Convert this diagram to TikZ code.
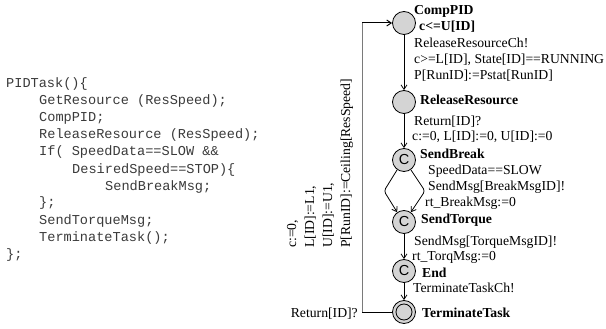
\documentclass[tikz,border=0pt]{standalone}
\usepackage{fontspec}
\setmainfont{Liberation Serif}
\setmonofont{Liberation Mono}
\setsansfont{Liberation Sans}
\usetikzlibrary{arrows.meta}
\definecolor{locgray}{HTML}{D4D4D4}
\definecolor{codegray}{HTML}{3A3A3A}
\definecolor{loopgray}{HTML}{7A7A7A}

\begin{document}
\begin{tikzpicture}[x=1pt,y=-1pt,
  loc/.style={circle,draw,line width=0.8pt,fill=locgray,minimum size=23pt,inner sep=0pt},
  committed/.style={loc,font=\sffamily\fontsize{14.5}{14.5}\selectfont},
  inner ring/.style={circle,draw,line width=0.8pt,minimum size=16pt,inner sep=0pt},
  lbl/.style={anchor=base west,inner sep=0pt,font=\fontsize{13.7}{16}\selectfont},
  locname/.style={lbl,font=\bfseries\fontsize{13.7}{16}\selectfont},
  codeline/.style={anchor=base west,inner sep=0pt,text=codegray,font=\ttfamily\fontsize{13.6}{16}\selectfont},
  rotlbl/.style={lbl,rotate=90},
  trans/.style={line width=0.8pt,-{Straight Barb[length=4.5pt,width=6pt]}},
]
\useasboundingbox (0,0) rectangle (606,329);

% ---- source code ----
\node[codeline] (c1)  at (6,88)    {PIDTask()\{};
\node[codeline] (c2)  at (39,105)  {GetResource (ResSpeed);};
\node[codeline] (c3)  at (39,122)  {CompPID;};
\node[codeline] (c4)  at (39,139)  {ReleaseResource (ResSpeed);};
\node[codeline] (c5)  at (39,156)  {If( SpeedData==SLOW \&\&};
\node[codeline] (c6)  at (72,173)  {DesiredSpeed==STOP)\{};
\node[codeline] (c7)  at (105,190) {SendBreakMsg;};
\node[codeline] (c8)  at (39,207)  {\};};
\node[codeline] (c9)  at (39,224)  {SendTorqueMsg;};
\node[codeline] (c10) at (39,241)  {TerminateTask();};
\node[codeline] (c11) at (6,258)   {\};};

% ---- locations ----
\node[loc] (comp) at (404,23) {};
\node[loc] (rel)  at (404,102) {};
\node[committed] (brk) at (404,160) {C};
\node[committed] (trq) at (404,222) {C};
\node[committed] (end) at (404,271) {C};
\node[loc] (term) at (404,312) {};
\node[inner ring] (termin) at (term.center) {};

% ---- location names and invariants ----
\node[locname] (ncomp) at (414,15)  {CompPID};
\node[locname] (icomp) at (419,31)  {c<=U[ID]};
\node[locname] (nrel)  at (420,105) {ReleaseResource};
\node[locname] (nbrk)  at (420,158) {SendBreak};
\node[locname] (ntrq)  at (421,223) {SendTorque};
\node[locname] (nend)  at (422,277) {End};
\node[locname] (nterm) at (422,317) {TerminateTask};

% ---- transition labels ----
\node[lbl] (e1a) at (414,48)  {ReleaseResourceCh!};
\node[lbl] (e1b) at (414,64)  {c>=L[ID], State[ID]==RUNNING};
\node[lbl] (e1c) at (414,80)  {P[RunID]:=Pstat[RunID]};
\node[lbl] (e2a) at (414,125) {Return[ID]?};
\node[lbl] (e2b) at (412,141) {c:=0, L[ID]:=0, U[ID]:=0};
\node[lbl] (e3a) at (428,175) {SpeedData==SLOW};
\node[lbl] (e3b) at (428,190) {SendMsg[BreakMsgID]!};
\node[lbl] (e3c) at (425,206) {rt\_BreakMsg:=0};
\node[lbl] (e4a) at (414,245) {SendMsg[TorqueMsgID]!};
\node[lbl] (e4b) at (412,260) {rt\_TorqMsg:=0};
\node[lbl] (e5a) at (413,292) {TerminateTaskCh!};

% ---- transitions ----
\draw[trans] (comp) -- (rel);
\draw[trans] (rel) -- (brk);
\draw[trans,rounded corners=3pt] (brk.235) -- (384,191) -- (trq.125);
\draw[trans,rounded corners=3pt] (brk.305) -- (425,191) -- (trq.55);
\draw[trans] (trq) -- (end);
\draw[trans] (end) -- (term);

% ---- return loop ----
\coordinate (lb) at (362,312);
\coordinate (lt) at (362,23);
\draw[line width=0.5pt,loopgray] (lb) -- (lt);
\draw[line width=1pt] (term.west) -- (lb);
\draw[line width=1pt,-{Straight Barb[length=4.5pt,width=6pt]}] (lt) -- (comp.west);
\node[lbl,anchor=base east] (rret) at (358,317) {Return[ID]?};
\node[rotlbl] (r1) at (296,248) {c:=0,};
\node[rotlbl] (r2) at (314,248) {L[ID]:=L1,};
\node[rotlbl] (r3) at (332,248) {U[ID]:=U1,};
\node[rotlbl] (r4) at (350,248) {P[RunID]:=Ceiling[ResSpeed]};
\end{tikzpicture}
\end{document}
